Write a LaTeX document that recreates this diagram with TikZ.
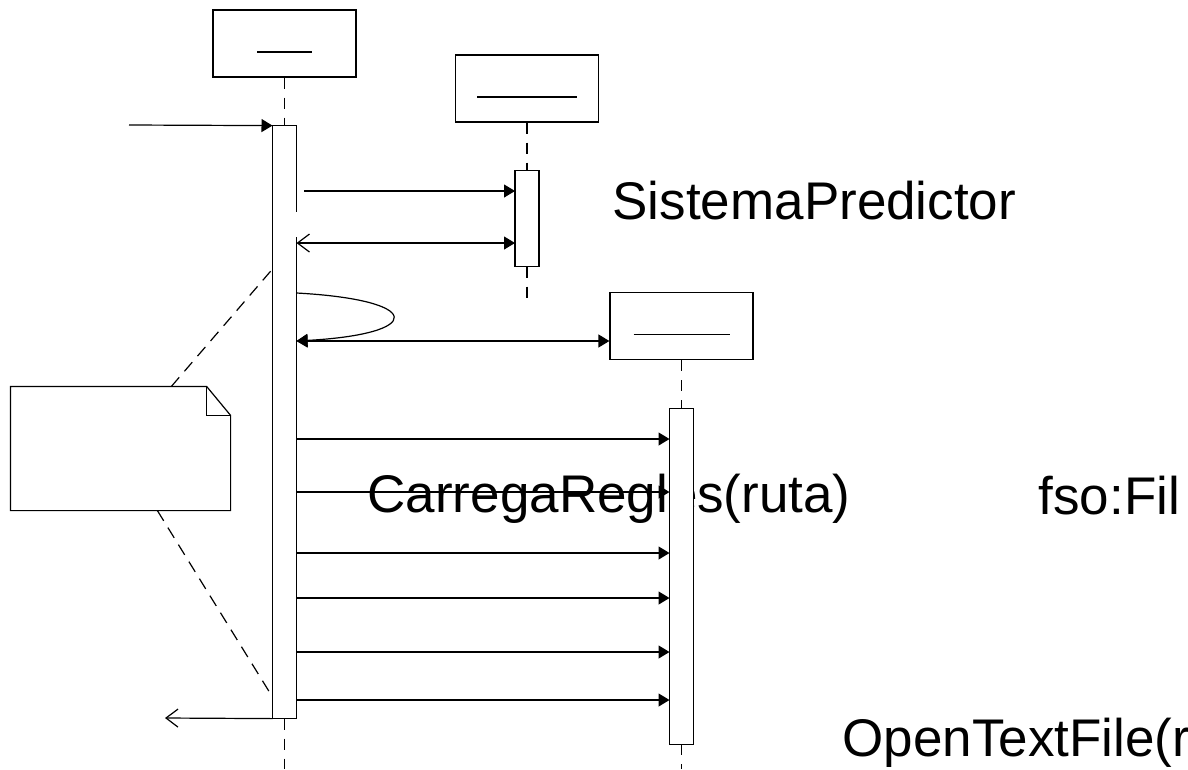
\documentclass[tikz,border=0pt]{standalone}
\usepackage{fontspec}
\setsansfont{Liberation Sans}
\usepackage{tikz}
\usetikzlibrary{arrows.meta,positioning}

\begin{document}
\begin{tikzpicture}[
  x=1pt, y=-1pt,
  line width=1.2pt,
  obj/.style={draw, fill=white, minimum width=143pt, minimum height=67pt, inner sep=0pt},
  act/.style={draw, fill=white, minimum width=24pt, inner sep=0pt, outer sep=0pt},
  lifeline/.style={dash pattern=on 11pt off 9pt},
  notelink/.style={dash pattern=on 12pt off 8pt},
  msg/.style={-{Triangle[length=11pt,width=13pt]}},
  reply/.style={-{Straight Barb[length=12pt,width=18pt]}},
  lbl/.style={font=\sffamily\fontsize{53pt}{60pt}\selectfont, anchor=base west, inner sep=0pt},
]
\useasboundingbox (0,0) rectangle (1188,769);
\clip (0,0) rectangle (1188,769);

% labels (drawn first, the bars cover them)
\node[lbl] (predictor) at (612,219) {SistemaPredictor};
\node[lbl] (carrega) at (367,512) {CarregaRegles(ruta)};
\node[lbl] (fso) at (1038,514) {fso:Fil};
\node[lbl] (opentext) at (842,756) {OpenTextFile(r};

% objects and activations
\node[obj] (obj1) at (284.5,43.5) {};
\node[obj] (obj2) at (527,88.5) {};
\node[obj] (obj3) at (681.5,326) {};
\foreach \o/\w in {obj1/55,obj2/100,obj3/96}
  \draw ([xshift=-\w/2, yshift=-8.5pt]\o.center) -- ++(\w,0);

\node[act, minimum height=593pt, below=48pt of obj1] (act1) {};
\node[act, minimum height=96pt, below=48pt of obj2] (act2) {};
\node[act, minimum height=336pt, below=48pt of obj3] (act3) {};
\draw[white, line width=2pt] (act1.east |- 0,212) -- (act1.east |- 0,237);

\coordinate (end1) at (284.5,769);
\coordinate (end2) at (527,300);
\coordinate (end3) at (681.5,769);
\draw[lifeline] (obj1) -- (act1);
\draw[lifeline] (act1.south) -- (end1);
\draw[lifeline] (obj2) -- (act2);
\draw[lifeline] (act2.south) -- (end2);
\draw[lifeline] (obj3) -- (act3);
\draw[lifeline] (act3.south) -- (end3);

% note
\node[minimum width=219pt, minimum height=123pt, inner sep=0pt] (note) at (120.5,448.5) {};
\draw (note.north west) -- ([xshift=-24pt]note.north east) -- ([yshift=-29pt]note.north east)
  -- (note.south east) -- (note.south west) -- cycle;
\draw ([xshift=-24pt]note.north east) -- ([xshift=-24pt,yshift=-29pt]note.north east) -- ([yshift=-29pt]note.north east);
\draw[notelink] ([xshift=161pt]note.north west) -- (act1.west |- 0,269);
\draw[notelink] ([xshift=147pt]note.south west) -- (act1.west |- 0,697);

% messages
\coordinate (caller) at (129,125);
\coordinate (m1s) at (304,191);
\coordinate (back) at (165,718);
\draw[msg] (caller) -- (act1.north west);
\draw[msg] (m1s) -- (act2.west |- m1s);
\draw[{Straight Barb[length=12pt,width=18pt]}-{Triangle[length=11pt,width=13pt]}] (act1.east |- 0,243) -- (act2.west |- 0,243);
\draw[msg] (act1.east |- 0,293) .. controls (425,300) and (425,334) .. (act1.east |- 0,341);
\draw[{Triangle[length=11pt,width=13pt]}-{Triangle[length=11pt,width=13pt]}] (act1.east |- 0,341) -- (obj3.west |- 0,341);
\foreach \y in {439,492,553,598,652,700}
  \draw[msg] (act1.east |- 0,\y) -- (act3.west |- 0,\y);
\draw[reply] (act1.south west) -- (back);
\end{tikzpicture}
\end{document}
